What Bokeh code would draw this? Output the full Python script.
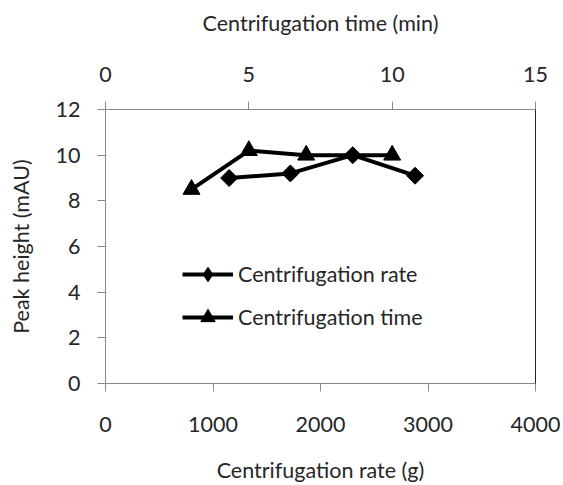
import math
from bokeh.plotting import figure
from bokeh.models import (Range1d, LinearAxis, FixedTicker, Legend, LegendItem,
                          ColumnDataSource)
from bokeh.embed import file_html
from bokeh.resources import INLINE

# ---- data ----
rate_g = [1150, 1720, 2300, 2880]
rate_peak = [9.0, 9.2, 10.0, 9.1]
time_min = [3, 5, 7, 10]
time_peak = [8.5, 10.2, 10.0, 10.0]

x_ticks = [0, 1000, 2000, 3000, 4000]
top_ticks = [0, 5, 10, 15]
y_ticks = [0, 2, 4, 6, 8, 10, 12]

FONT = "Lato"
FS = "21.5px"
AXIS_COL = "#8a8a8a"
TEXT_COL = "#262626"

p = figure(width=563, height=485, output_backend="svg", toolbar_location=None,
           x_range=Range1d(0, 4000), y_range=Range1d(0, 12),
           min_border_left=105, min_border_right=28, min_border_top=109,
           min_border_bottom=101, x_axis_location=None, y_axis_location=None)
p.extra_x_ranges = {"time": Range1d(0, 15)}
p.xgrid.visible = False
p.ygrid.visible = False
p.outline_line_color = None
p.background_fill_color = "white"
p.border_fill_color = "white"


def style(ax, ticks):
    ax.ticker = FixedTicker(ticks=ticks)
    ax.axis_line_color = AXIS_COL
    ax.major_tick_line_color = AXIS_COL
    ax.minor_tick_line_color = None
    ax.major_tick_out = 8
    ax.major_tick_in = 0
    ax.major_label_text_font = FONT
    ax.major_label_text_font_size = FS
    ax.major_label_text_color = TEXT_COL
    ax.axis_label_text_font = FONT
    ax.axis_label_text_font_size = FS
    ax.axis_label_text_font_style = "normal"
    ax.axis_label_text_color = TEXT_COL


bottom = LinearAxis(axis_label="Centrifugation rate (g)")
style(bottom, x_ticks)
bottom.major_label_standoff = 25
bottom.axis_label_standoff = 22
p.add_layout(bottom, "below")

top = LinearAxis(x_range_name="time", axis_label="Centrifugation time (min)")
style(top, top_ticks)
top.major_label_standoff = 20
top.axis_label_standoff = 28
p.add_layout(top, "above")

left = LinearAxis(axis_label="Peak height (mAU)")
style(left, y_ticks)
left.major_label_standoff = 17
left.axis_label_standoff = 19
p.add_layout(left, "left")

right = LinearAxis()
right.ticker = FixedTicker(ticks=[])
right.axis_line_color = "#222222"
right.major_label_text_font_size = "0px"
right.major_tick_line_color = None
right.minor_tick_line_color = None
p.add_layout(right, "right")

src_rate = ColumnDataSource(dict(x=rate_g, y=rate_peak))
src_time = ColumnDataSource(dict(x=time_min, y=time_peak))

l1 = p.line("x", "y", source=src_rate, line_color="black", line_width=4)
m1 = p.scatter("x", "y", source=src_rate, marker="square", size=12,
               angle=math.pi / 4, fill_color="black", line_color="black")
l2 = p.line("x", "y", source=src_time, x_range_name="time",
            line_color="black", line_width=4)
m2 = p.scatter("x", "y", source=src_time, x_range_name="time",
               marker="triangle", size=17, fill_color="black", line_color="black")

# legend-only glyph for the diamond (legend draws markers unrotated)
leg_d = p.scatter("x", "y", source=src_rate, marker="diamond", size=12,
                  fill_color="black", line_color="black", visible=False)

legend = Legend(items=[
    LegendItem(label="Centrifugation rate", renderers=[l1, leg_d]),
    LegendItem(label="Centrifugation time", renderers=[l2, m2]),
], location=(77, 48))
legend.padding = 0
legend.margin = 0
legend.border_line_color = None
legend.background_fill_alpha = 0
legend.glyph_width = 51
legend.glyph_height = 36
legend.spacing = 7
legend.label_standoff = 5
legend.label_text_font = FONT
legend.label_text_font_size = FS
legend.label_text_color = TEXT_COL
p.add_layout(legend)

open("out.html", "w").write(file_html(p, INLINE))
